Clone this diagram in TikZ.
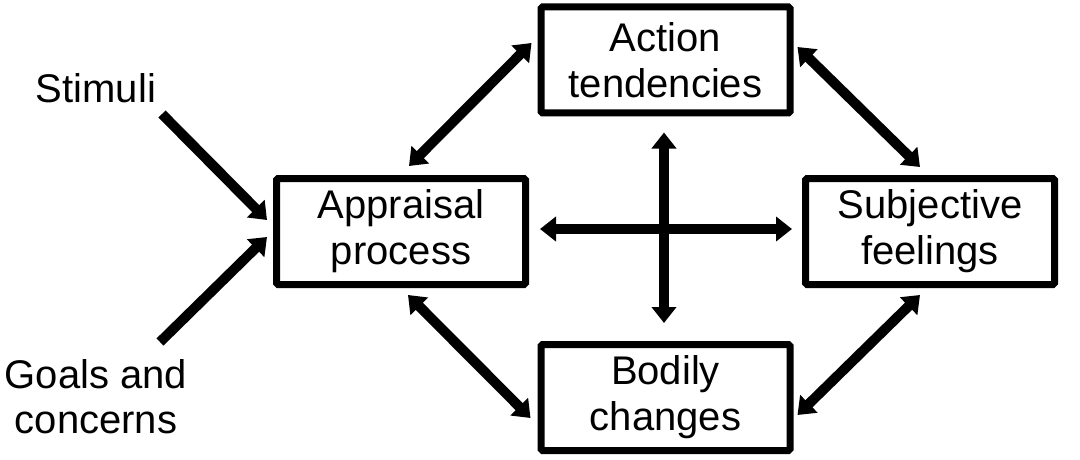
\documentclass[tikz,border=0pt]{standalone}
\usepackage{fontspec}
\setmainfont{Liberation Sans}
\usetikzlibrary{arrows.meta,calc}
\tikzset{
  boxnode/.style={draw=black, line width=7pt, rounded corners=1.5pt, minimum width=249pt, minimum height=106pt, align=center, inner sep=0pt, font=\fontsize{40}{46}\selectfont},
  lbl/.style={align=center, inner sep=0pt, font=\fontsize{40}{45}\selectfont},
  tip/.tip={Triangle[width=24pt,length=16pt]},
  conn/.style={line width=10pt, -tip},
  biconn/.style={line width=10pt, tip-tip}
}
\begin{document}
\begin{tikzpicture}[x=1pt,y=-1pt]
\useasboundingbox (0,0) rectangle (1080,460);
\node[boxnode] (act) at (665.5,60) {Action\\tendencies};
\node[boxnode] (app) at (401,231.5) {Appraisal\\process};
\node[boxnode] (sub) at (930,231.5) {Subjective\\feelings};
\node[boxnode] (bod) at (665.5,397.5) {Bodily\\changes};
\node[lbl] (stim) at (96,88) {Stimuli};
\node[lbl] (goal) at (96,397) {Goals and\\concerns};
\coordinate (s1) at (162,114);
\coordinate (g1) at (160,342);
\draw[conn] (s1) -- ($(app.west)+(-6,-11.5)$);
\draw[conn] (g1) -- ($(app.west)+(-6,5.5)$);
\draw[biconn] ($(app.north)+(8,-9)$) -- ($(act.west)+(-6,-17)$);
\draw[biconn] ($(act.east)+(4,-13)$) -- ($(sub.north)+(-10,-8)$);
\draw[biconn] ($(sub.south)+(-10,7)$) -- ($(bod.east)+(4,17.5)$);
\draw[biconn] ($(app.south)+(7,7)$) -- ($(bod.west)+(-7,20.5)$);
\draw[biconn] ($(app.east)+(11,-2.5)$) -- ($(sub.west)+(-10,-2.5)$);
\draw[biconn] ($(act.south)+(-1.5,16)$) -- ($(bod.north)+(-1.5,-18)$);
\end{tikzpicture}
\end{document}
